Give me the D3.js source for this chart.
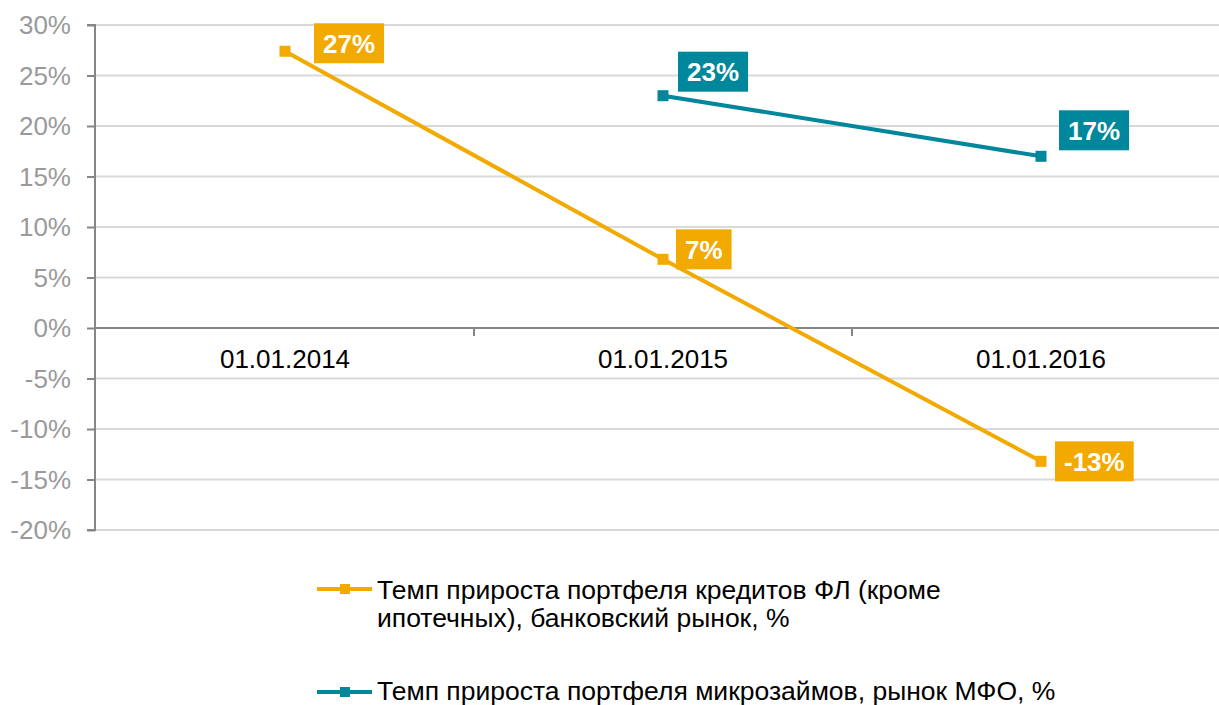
<!DOCTYPE html>
<meta charset="utf-8">
<style>
    body { margin: 0; background: #fff; }
    .axis text { font: 26px "Liberation Sans", Arial, sans-serif; }
    .y.axis text { fill: #9a9a9a; }
    .x.axis text { fill: #000; }
    .grid line { stroke: #d9d9d9; stroke-width: 2; }
    .lbl text { font: bold 26px "Liberation Sans", Arial, sans-serif; fill: #fff; }
    .legend text { font: 26.5px "Liberation Sans", Arial, sans-serif; fill: #000; }
</style>
<svg class="chart"></svg>
<script src="https://cdn.jsdelivr.net/npm/d3@7/dist/d3.min.js"></script>
<script>

    var categories = ["01.01.2014", "01.01.2015", "01.01.2016"];
    var yTicks = [-20, -15, -10, -5, 0, 5, 10, 15, 20, 25, 30];

    // темп прироста, %
    var loansFL = [27.4, 6.8, -13.2];
    var loansFLLabels = ["27%", "7%", "-13%"];
    var microLoans = [null, 23.0, 17.0];
    var microLoansLabels = [null, "23%", "17%"];

    var seriesNames = [
        ["Темп прироста портфеля кредитов ФЛ (кроме", "ипотечных), банковский рынок, %"],
        ["Темп прироста портфеля микрозаймов, рынок МФО, %"]
    ];
    var colors = ["#f2a900", "#00879b"];

    // manual label placement (like the original), px from point
    var labelNudge = [
        [[29, -8], [13, -10], [14, 0]],
        [null, [15, -24], [18, -26]]
    ];

    var width = 1219, height = 705;
    var svg = d3.select(".chart").attr("width", width).attr("height", height);

    var x = d3.scaleBand().domain(categories).range([96, 1230]).paddingInner(0).paddingOuter(0);
    var y = d3.scaleLinear().domain([-20, 30]).range([530, 25]);

    // gridlines
    svg.append("g").attr("class", "grid")
        .selectAll("line").data(yTicks.filter(d => d !== 0)).enter().append("line")
        .attr("x1", 96).attr("x2", width)
        .attr("y1", d => y(d)).attr("y2", d => y(d));

    // y axis
    var yAxis = d3.axisLeft(y).tickValues(yTicks).tickFormat(d => d + "%").tickSize(8).tickPadding(16);
    var yG = svg.append("g").attr("class", "y axis")
        .attr("transform", "translate(95,0)")
        .call(yAxis);
    yG.select(".domain").attr("stroke", "#868686").attr("stroke-width", 2)
        .attr("d", "M-8," + y(30) + "H0V" + y(-20) + "H-8");
    yG.selectAll(".tick line").attr("stroke", "#868686").attr("stroke-width", 2);
    yG.selectAll(".tick text").attr("dy", "0.34em");

    // zero line with category axis
    var xAxis = d3.axisBottom(x).tickSize(0).tickPadding(22);
    var xG = svg.append("g").attr("class", "x axis")
        .attr("transform", "translate(0," + y(0) + ")")
        .call(xAxis);
    xG.select(".domain").attr("stroke", "#868686").attr("stroke-width", 2)
        .attr("d", "M96,0H" + width);
    xG.selectAll(".tick text").attr("dy", "0.71em");
    svg.append("g").selectAll("line").data(categories.slice(1)).enter().append("line")
        .attr("x1", d => x(d)).attr("x2", d => x(d))
        .attr("y1", y(0)).attr("y2", y(0) + 8)
        .attr("stroke", "#868686").attr("stroke-width", 2);

    var cx = d => x(d) + x.bandwidth() / 2;

    function drawSeries(values, labels, color, nudge) {
        var pts = categories.map((c, i) => ({c: c, v: values[i], l: labels[i], n: nudge[i]}))
            .filter(d => d.v !== null);

        var line = d3.line().x(d => cx(d.c)).y(d => y(d.v));
        svg.append("path").datum(pts)
            .attr("fill", "none").attr("stroke", color).attr("stroke-width", 4)
            .attr("d", line);

        svg.append("g").selectAll("rect").data(pts).enter().append("rect")
            .attr("x", d => cx(d.c) - 5.5).attr("y", d => y(d.v) - 5.5)
            .attr("width", 11).attr("height", 11)
            .attr("fill", color);

        var lbl = svg.append("g").attr("class", "lbl").selectAll("g").data(pts).enter().append("g")
            .attr("transform", d => "translate(" + (cx(d.c) + d.n[0]) + "," + (y(d.v) + d.n[1]) + ")");
        lbl.append("text").text(d => d.l).attr("x", 9).attr("dy", "0.36em");
        lbl.each(function () {
            var g = d3.select(this);
            var w = g.select("text").node().getComputedTextLength();
            g.insert("rect", "text").attr("x", 0).attr("y", -20)
                .attr("width", w + 18).attr("height", 40).attr("fill", color);
        });
    }

    drawSeries(loansFL, loansFLLabels, colors[0], labelNudge[0]);
    drawSeries(microLoans, microLoansLabels, colors[1], labelNudge[1]);

    // legend
    var legendY = [589, 692];
    var legend = svg.append("g").attr("class", "legend").selectAll("g").data(seriesNames).enter().append("g")
        .attr("transform", (d, i) => "translate(317," + legendY[i] + ")");
    legend.append("line").attr("x1", 0).attr("x2", 55).attr("y1", 0).attr("y2", 0)
        .attr("stroke", (d, i) => colors[i]).attr("stroke-width", 4);
    legend.append("rect").attr("x", 23).attr("y", -5).attr("width", 10).attr("height", 10)
        .attr("fill", (d, i) => colors[i]);
    legend.each(function (d, i) {
        var g = d3.select(this);
        d.forEach((t, j) => {
            g.append("text").attr("x", 60).attr("y", (i ? 8 : 10) + j * 28).text(t);
        });
    });

</script>
